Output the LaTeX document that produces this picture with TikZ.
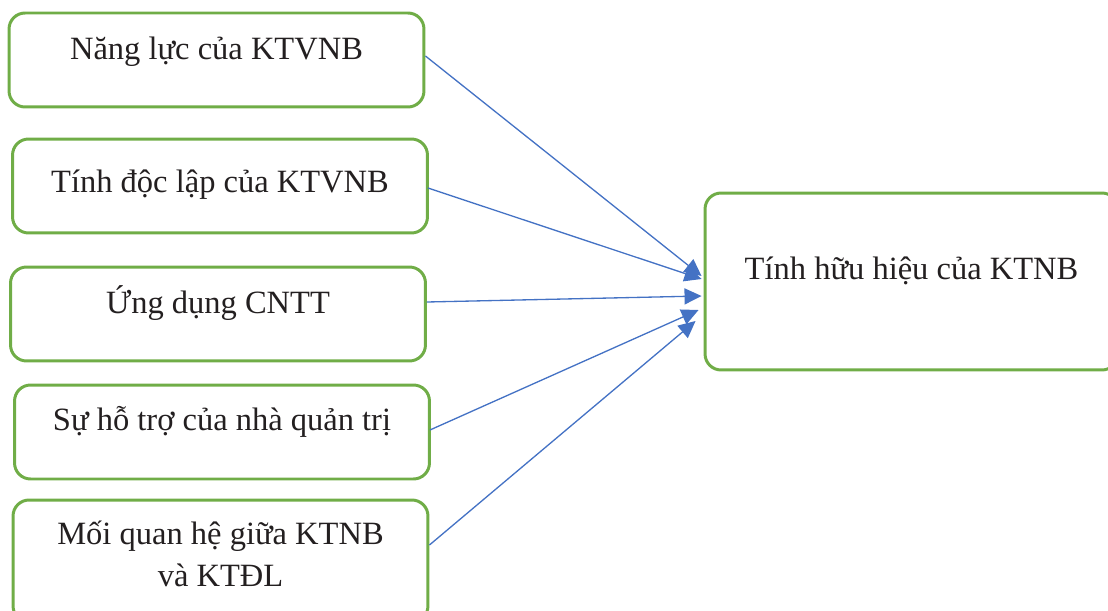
\documentclass[tikz,border=0pt]{standalone}
\usepackage{fontspec}
\setmainfont{Liberation Serif}
\usepackage{xcolor}
\usepackage{tikz}
\usetikzlibrary{arrows.meta,calc}

\definecolor{boxgreen}{RGB}{112,173,71}
\definecolor{arrowblue}{RGB}{68,114,196}
\definecolor{textgray}{RGB}{35,31,32}

\begin{document}
\begin{tikzpicture}[x=0.02cm, y=-0.02cm]
        \tikzstyle{factor}=[draw=boxgreen,line width=1.7pt,rounded corners=0.32cm,minimum width=8.3cm,inner sep=0pt]
        \tikzstyle{caption}=[text=textgray,font=\fontsize{18.5pt}{23.8pt}\selectfont,align=center,inner sep=0pt,anchor=base]
        \tikzstyle{link}=[draw=arrowblue,line width=0.75pt,-{Triangle[length=3.4mm,width=3.2mm]}]

        \useasboundingbox (0,0) rectangle (1108,611);
        \clip (0,0) rectangle (1108,611);

        % Draw the factor boxes on the left, each with its caption near the top
        % (the base of a two-line caption is its last line)
        \foreach \name / \x / \y / \h / \dy / \txt in {
                1/216.5/60/1.88cm/48/{Năng lực của KTVNB},
                2/220/186/1.88cm/55/{Tính độc lập của KTVNB},
                3/218/314/1.88cm/48/{Ứng dụng CNTT},
                4/222/432/1.88cm/47/{Sự hỗ trợ của nhà quản trị},
                5/220.5/561/2.44cm/88/{Mối quan hệ giữa KTNB\\và KTĐL}} {
            \node[factor, minimum height=\h] (F-\name) at (\x,\y) {};
            \node[caption] (T-\name) at ($(F-\name.north)+(0,\dy)$) {\txt};
        }

        % Draw the result box on the right
        \node[factor, minimum width=8.26cm, minimum height=3.54cm] (KT) at (911.5,281.5) {};
        \node[caption] (T-KT) at ($(KT.north)+(0,88)$) {Tính hữu hiệu của KTNB};

        % Connect every factor box with the result box
        \foreach \source / \sx / \sy / \ex / \ey in {
                1/0/-4/-2/-5.5,
                2/-1/2/-2/-2.5,
                3/0/-12/-2/14.5,
                4/-1/-2/-5/28.5,
                5/0/-16/-8/39.5}
            \draw[link] ($(F-\source.east)+(\sx,\sy)$) -- ($(KT.west)+(\ex,\ey)$);
\end{tikzpicture}
\end{document}
